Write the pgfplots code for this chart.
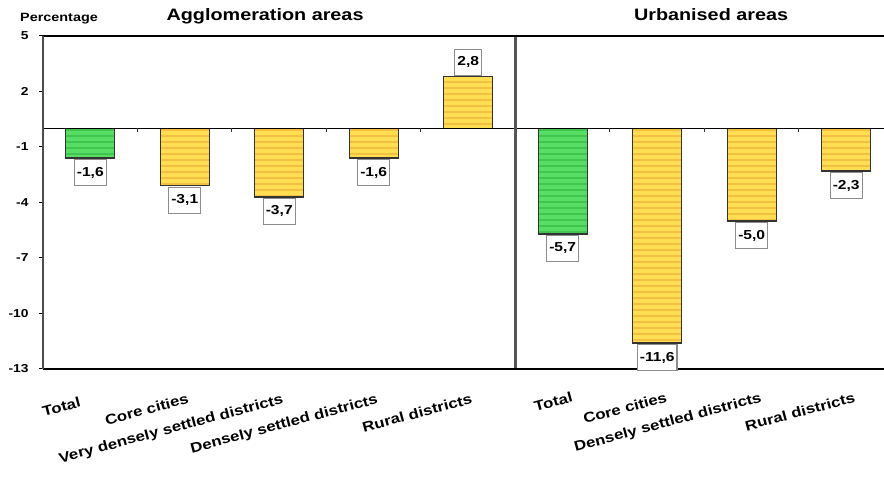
\documentclass[border=0pt]{standalone}
\usepackage{pgfplots}
\pgfplotsset{compat=1.18}
\usetikzlibrary{patterns.meta}
\usepackage{fontspec}
\setmainfont{Liberation Sans}[FakeStretch=1.2]
\definecolor{barg}{RGB}{88,222,100}
\definecolor{bargs}{RGB}{66,196,80}
\definecolor{bary}{RGB}{255,222,82}
\definecolor{barys}{RGB}{245,192,66}
\definecolor{sepgray}{RGB}{85,85,85}
\begin{document}
\begin{tikzpicture}[font=\bfseries]
\path[use as bounding box] (0,0) rectangle (884pt,478pt);
\begin{axis}[
  at={(43pt,109pt)}, anchor=south west,
  scale only axis, width=841pt, height=333pt,
  xmin=-0.5, xmax=8.4, ymin=-13, ymax=5,
  axis line style={draw=none},
  ytick={-13,-10,-7,-4,-1,2,5},
  ytick pos=left, tick align=outside,
  major tick length=4pt,
  ytick style={line width=1pt, black},
  yticklabel style={font=\fontsize{11.5}{13}\selectfont\bfseries, xshift=-7pt},
  /pgf/number format/assume math mode=true,
  xtick={0,...,8},
  xticklabels={{Total\hspace*{14pt}}, Core cities, Very densely settled districts, Densely settled districts, Rural districts, {Total\hspace*{-6pt}}, {Core cities\hspace*{-6pt}}, {Densely settled districts\hspace*{-6pt}}, {Rural districts\hspace*{-5pt}}},
  xtick style={draw=none},
  xticklabel style={rotate=15, anchor=north east, inner sep=0pt, yshift=-20pt, xshift=-3pt, font=\fontsize{14}{16}\selectfont\bfseries},
  point meta=y,
  nodes near coords={\pgfmathprintnumber[fixed,fixed zerofill,precision=1,use comma,assume math mode=true]{\pgfplotspointmeta}},
  every node near coord/.append style={draw=black!45, fill=white, font=\fontsize{13}{15}\selectfont\bfseries, inner xsep=2.5pt, inner ysep=0pt, minimum height=26pt, outer sep=1.5pt},
  clip=false,
]
\addplot[ybar, bar shift=0pt, bar width=49pt, fill=barg, draw=black!80, line width=1.2pt, postaction={pattern={Lines[angle=0, distance=6pt, line width=2pt]}, pattern color=bargs}] coordinates {(0,-1.6) (5,-5.7)};
\addplot[ybar, bar shift=0pt, bar width=49pt, fill=bary, draw=black!80, line width=1.2pt, postaction={pattern={Lines[angle=0, distance=6pt, line width=2pt]}, pattern color=barys}] coordinates {(1,-3.1) (2,-3.7) (3,-1.6) (4,2.8) (6,-11.6) (7,-5.0) (8,-2.3)};
\draw[line width=1pt, black] (axis cs:-0.5,0) -- (axis cs:8.4,0);
\pgfplotsinvokeforeach{0.5,1.5,2.5,3.5,5.5,6.5,7.5}{\draw[line width=1pt, black!80] (axis cs:#1,0) -- ([yshift=-4pt]axis cs:#1,0);}
\draw[line width=2.5pt, sepgray] (axis cs:4.5,-13) -- (axis cs:4.5,5);
\draw[line width=2.5pt, black] (rel axis cs:0,1) -- (rel axis cs:1,1);
\draw[line width=2.5pt, black] (rel axis cs:0,0) -- (rel axis cs:1,0);
\draw[line width=2.5pt, black!70] (rel axis cs:0,0) -- (rel axis cs:0,1);
\node[anchor=base, yshift=15pt, font=\fontsize{16.5}{20}\selectfont\bfseries] at (axis cs:1.85,5) {Agglomeration areas};
\node[anchor=base, yshift=15pt, font=\fontsize{16.5}{20}\selectfont\bfseries] at (axis cs:6.57,5) {Urbanised areas};
\node[anchor=base west, xshift=-23pt, yshift=14pt, inner sep=0pt, font=\fontsize{12}{14}\selectfont\bfseries] at (rel axis cs:0,1) {Percentage};
\end{axis}
\end{tikzpicture}
\end{document}
